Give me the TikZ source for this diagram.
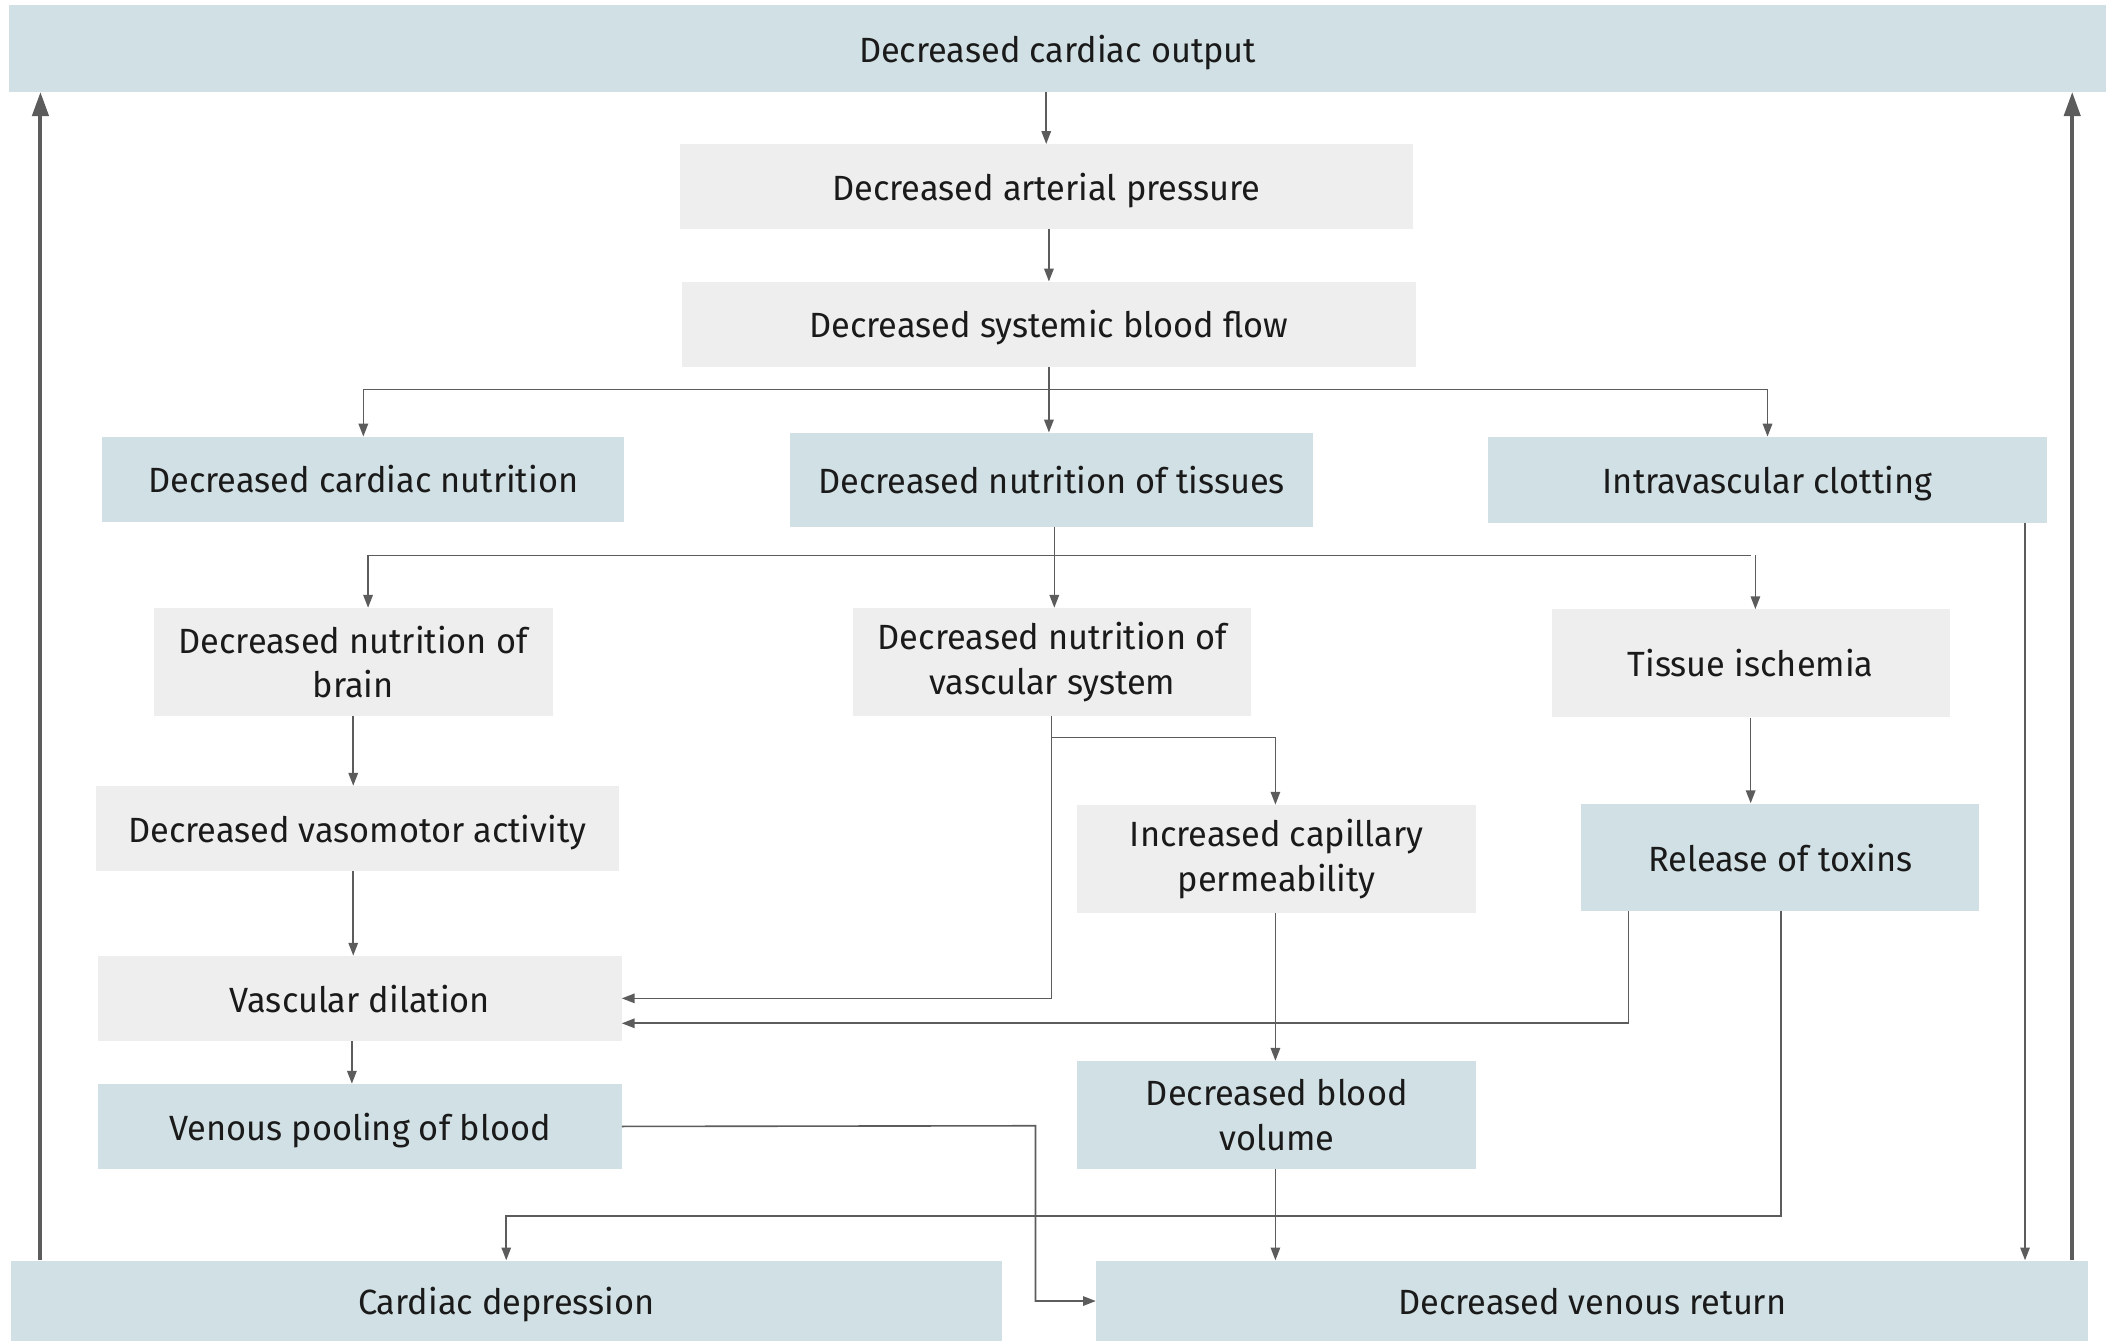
\documentclass[tikz,border=0pt]{standalone}
\usepackage{fontspec}
\setmainfont{Fira Sans}[FakeStretch=0.98]
\usetikzlibrary{arrows.meta}
\definecolor{boxblue}{HTML}{D1E0E4}
\definecolor{boxgray}{HTML}{EEEEEE}
\definecolor{linegray}{HTML}{5C5C5C}
\definecolor{ink}{HTML}{1A1A1A}
\begin{document}
\begin{tikzpicture}[x=1pt,y=-1pt,
  box/.style={rectangle, inner sep=0pt, align=center, text=ink,
    font=\fontsize{26}{33}\selectfont},
  oneline/.style={text depth=0pt},
  bluebox/.style={box, fill=boxblue},
  graybox/.style={box, fill=boxgray},
  conn/.style={draw=linegray, line width=1.2pt,
    -{Triangle[length=9.5pt,width=7pt]}},
  plain/.style={draw=linegray, line width=1.2pt},
  loopback/.style={draw=linegray, line width=3pt,
    -{Triangle[length=18pt,width=12pt]}}]
\useasboundingbox (0,0) rectangle (1568,995);

% boxes
\node[bluebox, oneline, minimum width=1555pt, minimum height=64pt] (top) at (784.5,36) {Decreased cardiac output};
\node[graybox, oneline, minimum width=544pt, minimum height=63pt] (arterial) at (776,138.5) {Decreased arterial pressure};
\node[graybox, oneline, minimum width=544pt, minimum height=63pt] (systemic) at (778,240.5) {Decreased systemic blood flow};
\node[bluebox, oneline, minimum width=387pt, minimum height=63pt] (cardnut) at (269.5,355.5) {Decreased cardiac nutrition};
\node[bluebox, oneline, minimum width=388pt, minimum height=70pt] (tissues) at (780,356) {Decreased nutrition of tissues};
\node[bluebox, oneline, minimum width=414pt, minimum height=64pt] (clot) at (1311,356) {Intravascular clotting};
\node[graybox, minimum width=296pt, minimum height=80pt] (brain) at (262,491) {Decreased nutrition of\\brain};
\node[graybox, minimum width=295pt, minimum height=80pt] (vascular) at (780.5,491) {Decreased nutrition of\\vascular system};
\node[graybox, oneline, minimum width=295pt, minimum height=80pt] (ischemia) at (1298.5,492) {Tissue ischemia};
\node[graybox, oneline, minimum width=388pt, minimum height=63pt] (vasomotor) at (265,614.5) {Decreased vasomotor activity};
\node[graybox, minimum width=296pt, minimum height=80pt] (capillary) at (947,637) {Increased capillary\\permeability};
\node[bluebox, oneline, minimum width=295pt, minimum height=80pt] (toxins) at (1320.5,636) {Release of toxins};
\node[graybox, oneline, minimum width=388pt, minimum height=63pt] (dilation) at (267,740.5) {Vascular dilation};
\node[bluebox, oneline, minimum width=388pt, minimum height=63pt] (pooling) at (267,835.5) {Venous pooling of blood};
\node[bluebox, minimum width=296pt, minimum height=80pt] (bloodvol) at (947,827) {Decreased blood\\volume};
\node[bluebox, oneline, minimum width=735pt, minimum height=60pt] (cardep) at (375.5,965) {Cardiac depression};
\node[bluebox, oneline, minimum width=736pt, minimum height=60pt] (venous) at (1181,965) {Decreased venous return};

% junction points of the branching lines
\coordinate (busA) at (778,289);
\coordinate (busB) at (782,412);
\coordinate (vasc) at (780,547);
\coordinate (toxL) at (1208,676);
\coordinate (toxR) at (1321,676);
\coordinate (clotX) at (1502,388);
\coordinate (poolX) at (768,835);
\coordinate (leftX) at (30,0);
\coordinate (rightX) at (1537,0);

% main chain
\draw[conn] (top.south -| arterial.north) -- (arterial.north);
\draw[conn] (systemic.north |- arterial.south) -- (systemic.north);

% first branching
\draw[plain] (systemic.south) -- (busA);
\draw[plain] (cardnut.north |- busA) -- (clot.north |- busA);
\draw[conn] (cardnut.north |- busA) -- (cardnut.north);
\draw[conn] (busA) -- (busA |- tissues.north);
\draw[conn] (clot.north |- busA) -- (clot.north);

% second branching
\draw[plain] (busB |- tissues.south) -- (busB);
\draw[plain] ([xshift=11pt]brain.north |- busB) -- (ischemia.north |- busB);
\draw[conn] ([xshift=11pt]brain.north |- busB) -- ([xshift=11pt]brain.north);
\draw[conn] (busB) -- (busB |- vascular.north);
\draw[conn] ([xshift=3.5pt]ischemia.north |- busB) -- ([xshift=3.5pt]ischemia.north);

% brain column
\draw[conn] (brain.south) -- (brain.south |- vasomotor.north);
\draw[conn] (brain.south |- vasomotor.south) -- (brain.south |- dilation.north);
\draw[conn] ([xshift=-1pt]brain.south |- dilation.south) -- ([xshift=-1pt]brain.south |- pooling.north);

% vascular system column
\draw[conn] (vasc |- vascular.south) |- (dilation.east);
\draw[conn] (vasc) -| ([xshift=-1pt]capillary.north);
\draw[conn] ([xshift=-1pt]capillary.south) -- ([xshift=-1pt]bloodvol.north);
\draw[conn] ([xshift=-1pt]bloodvol.south) -- ([xshift=-1pt]bloodvol.south |- venous.north);

% ischemia column
\draw[conn] (ischemia.south) -- (ischemia.south |- toxins.north);
\draw[conn] (toxL) |- ([yshift=-18.5pt]dilation.east);
\draw[conn] (toxR) -- (toxR |- 0,902) -| (cardep.north);

% clotting and pooling into venous return
\draw[conn] (clotX) -- (clotX |- venous.north);
\draw[conn] (pooling.east) -- (poolX) |- (venous.west);

% feedback to cardiac output
\draw[loopback] (leftX |- cardep.north) -- (leftX |- top.south);
\draw[loopback] (rightX |- venous.north) -- (rightX |- top.south);
\end{tikzpicture}
\end{document}
